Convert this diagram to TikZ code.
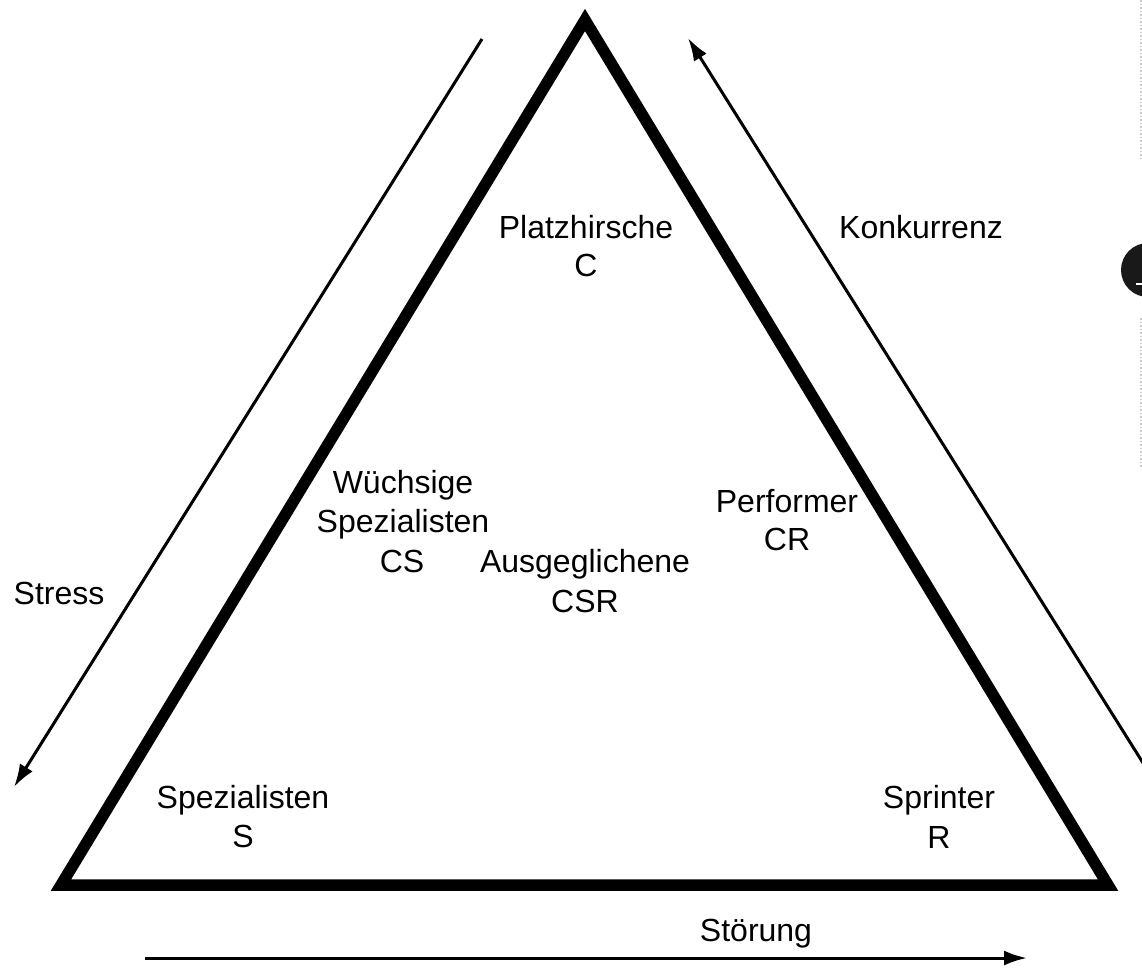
\documentclass[tikz,border=0pt]{standalone}
\usepackage{fontspec}
\setmainfont{Liberation Sans}
\usetikzlibrary{arrows.meta}
\tikzset{
  lbl/.style={anchor=base, inner sep=0pt, outer sep=0pt, font=\fontsize{32}{39}\selectfont},
  tri/.style={line width=11.5pt, line join=miter},
  axisarrow/.style={line width=3pt, -{Latex[length=23pt,width=15pt]}}
}
\begin{document}
\begin{tikzpicture}[x=1pt,y=-1pt]
\useasboundingbox (0,0) rectangle (1142,967);
\fill[white] (0,0) rectangle (1142,967);
% triangle corners
\coordinate (S) at (61,885);
\coordinate (C) at (585,20);
\coordinate (R) at (1108,885);
\draw[tri] (S) -- (C) -- (R) -- cycle;
% arrows
\coordinate (stressA) at (482,39);
\coordinate (stressB) at (14,787);
\draw[axisarrow] (stressA) -- (stressB);
\coordinate (konkA) at (1165,798);
\coordinate (konkB) at (688,38);
\draw[axisarrow] (konkA) -- (konkB);
\coordinate (stoerA) at (145,958);
\coordinate (stoerB) at (1027,958);
\draw[axisarrow] (stoerA) -- (stoerB);
% labels
\node[lbl] (c1) at (586,238) {Platzhirsche};
\node[lbl] (c2) at (586,276) {C};
\node[lbl] (konk) at (921,238) {Konkurrenz};
\node[lbl] (cs1) at (403,493) {Wüchsige};
\node[lbl] (cs2) at (403,532) {Spezialisten};
\node[lbl] (cs3) at (402,572) {CS};
\node[lbl] (csr1) at (585,572) {Ausgeglichene};
\node[lbl] (csr2) at (585,612) {CSR};
\node[lbl] (cr1) at (787,512) {Performer};
\node[lbl] (cr2) at (787,550) {CR};
\node[lbl] (stress) at (59,604) {Stress};
\node[lbl] (s1) at (243,808) {Spezialisten};
\node[lbl] (s2) at (243,847) {S};
\node[lbl] (r1) at (939,808) {Sprinter};
\node[lbl] (r2) at (939,848) {R};
\node[lbl] (stoer) at (756,941) {Störung};
% partial elements at the right edge
\draw[gray!40, line width=1.5pt, dotted] (1141,0) -- (1141,160);
\draw[gray!40, line width=1.5pt, dotted] (1141,318) -- (1141,468);
\fill[black!90] (1148,270) circle[radius=27];
\draw[white, line width=2pt] (1136,284) -- (1142,284);
\end{tikzpicture}
\end{document}
